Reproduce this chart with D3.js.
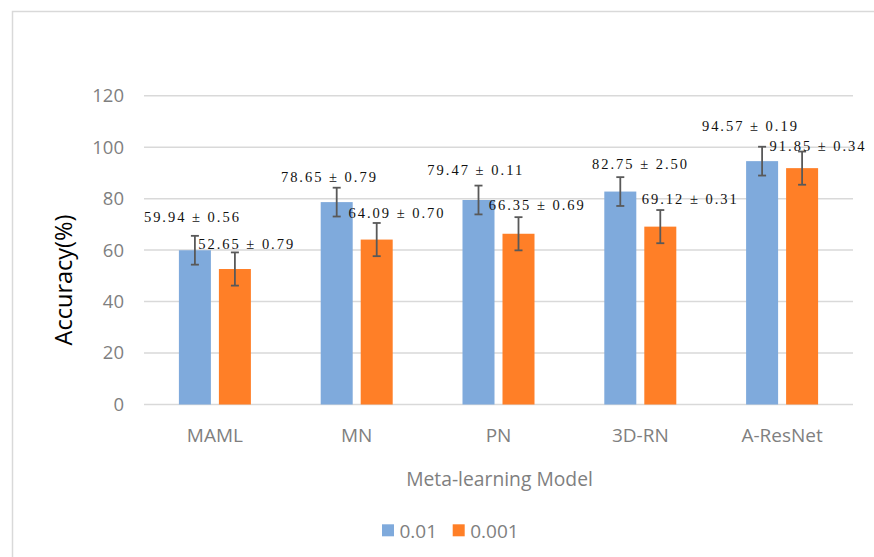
<!DOCTYPE html>
<html><head><meta charset="utf-8">
<script src="https://cdn.jsdelivr.net/npm/d3@7"></script>
<style>html,body{margin:0;padding:0;background:#fff;}svg{display:block;}</style>
</head><body>
<script>
// ---- data ----
const categories = ["MAML", "MN", "PN", "3D-RN", "A-ResNet"];
const seriesNames = ["0.01", "0.001"];
const valuesA = [59.94, 78.65, 79.47, 82.75, 94.57];
const valuesB = [52.65, 64.09, 66.35, 69.12, 91.85];
const stdA = [0.56, 0.79, 0.11, 2.50, 0.19];
const stdB = [0.79, 0.70, 0.69, 0.31, 0.34];
const errA = [5.6, 5.6, 5.6, 5.6, 5.6];
const errB = [6.45, 6.45, 6.45, 6.45, 6.45];
const yTicks = [0, 20, 40, 60, 80, 100, 120];
const colors = ["#7FAADC", "#FF7F27"];
// label placement offsets (layout), px relative to bar center / bar top
const labelDxA = [-3.5, -8.3, -3.8, 19.2, -12.7];
const labelDyA = [-28.3, -20.4, -25, -22.6, -30.4];
const labelDxB = [10.8, 19.3, 17.8, 29, 15];
const labelDyB = [-19.7, -21.9, -23.5, -22.3, -17.1];

(function () {
const W = 874, H = 557;
const svg = d3.select("body").append("svg").attr("width", W).attr("height", H);
svg.append("rect").attr("width", W).attr("height", H).attr("fill", "#fff");
// chart area border
svg.append("path").attr("d", `M12.5,${H} L12.5,11.5 L${W},11.5`)
  .attr("fill", "none").attr("stroke", "#d9d9d9").attr("stroke-width", 1.5);

const pLeft = 144, pRight = 853, pTop = 95.7, pBottom = 404.5;
const x0 = d3.scaleBand().domain(categories).range([pLeft, pRight]).padding(0);
const x1 = d3.scaleBand().domain(seriesNames)
  .range([x0.bandwidth() / 2 - 36, x0.bandwidth() / 2 + 36]).paddingInner(0.2).paddingOuter(0);
const y = d3.scaleLinear().domain([0, 120]).range([pBottom, pTop]);

// gridlines
svg.append("g").selectAll("line").data(yTicks).join("line")
  .attr("x1", pLeft).attr("x2", pRight)
  .attr("y1", d => y(d)).attr("y2", d => y(d))
  .attr("stroke", "#d9d9d9").attr("stroke-width", 1.5);

// y axis labels
const yAxis = d3.axisLeft(y).tickValues(yTicks).tickSize(0).tickPadding(0);
const gy = svg.append("g").attr("transform", `translate(${pLeft - 20},0)`).call(yAxis);
gy.select(".domain").remove();
gy.selectAll("text").attr("font-family", "Open Sans").attr("font-size", "18.5px").attr("fill", "#7f7f7f");

// x axis labels
const xAxis = d3.axisBottom(x0).tickSize(0).tickPadding(0);
const gx = svg.append("g").attr("transform", `translate(0,${pBottom})`).call(xAxis);
gx.select(".domain").remove();
gx.selectAll("text").attr("y", 0).attr("dy", null).attr("transform", "translate(0,37)")
  .attr("font-family", "Open Sans").attr("font-size", "19px").attr("fill", "#7f7f7f");

const seriesData = [
  {name: seriesNames[0], vals: valuesA, std: stdA, err: errA, dx: labelDxA, dy: labelDyA, color: colors[0]},
  {name: seriesNames[1], vals: valuesB, std: stdB, err: errB, dx: labelDxB, dy: labelDyB, color: colors[1]}
];

seriesData.forEach(s => {
  const g = svg.append("g");
  const rows = categories.map((c, i) => ({c, v: s.vals[i], sd: s.std[i], e: s.err[i], dx: s.dx[i], dy: s.dy[i]}));
  const cx = d => x0(d.c) + x1(s.name) + x1.bandwidth() / 2;
  g.selectAll("rect").data(rows).join("rect")
    .attr("x", d => x0(d.c) + x1(s.name)).attr("width", x1.bandwidth())
    .attr("y", d => y(d.v)).attr("height", d => y(0) - y(d.v))
    .attr("fill", s.color);
  // error bars
  const eb = g.selectAll("g.eb").data(rows).join("g").attr("class", "eb");
  eb.append("line").attr("x1", cx).attr("x2", cx)
    .attr("y1", d => y(d.v + d.e)).attr("y2", d => y(d.v - d.e));
  eb.append("line").attr("x1", d => cx(d) - 4).attr("x2", d => cx(d) + 4)
    .attr("y1", d => y(d.v + d.e)).attr("y2", d => y(d.v + d.e));
  eb.append("line").attr("x1", d => cx(d) - 4).attr("x2", d => cx(d) + 4)
    .attr("y1", d => y(d.v - d.e)).attr("y2", d => y(d.v - d.e));
  eb.selectAll("line").attr("stroke", "#595959").attr("stroke-width", 1.8);
  // data labels
  g.selectAll("text.lbl").data(rows).join("text").attr("class", "lbl")
    .attr("x", d => cx(d) + d.dx).attr("y", d => y(d.v) + d.dy)
    .attr("text-anchor", "middle")
    .attr("font-family", "Liberation Serif").attr("font-size", "14.5px").attr("fill", "#111")
    .attr("textLength", 95).attr("lengthAdjust", "spacing")
    .text(d => `${d.v.toFixed(2)} ± ${d.sd.toFixed(2)}`);
});

// y axis title
svg.append("text").attr("transform", "translate(72,280) rotate(-90)")
  .attr("text-anchor", "middle")
  .attr("font-family", "Open Sans").attr("font-size", "23.5px").attr("fill", "#000")
  .text("Accuracy(%)");

// x axis title
svg.append("text").attr("x", (pLeft + pRight) / 2 + 1).attr("y", 486)
  .attr("text-anchor", "middle")
  .attr("font-family", "Open Sans").attr("font-size", "19.3px").attr("fill", "#7f7f7f")
  .text("Meta-learning Model");

// legend
const legX = [382, 452.7];
const leg = svg.append("g");
seriesNames.forEach((n, i) => {
  leg.append("rect").attr("x", legX[i]).attr("y", 524.3).attr("width", 12).attr("height", 12).attr("fill", colors[i]);
  leg.append("text").attr("x", legX[i] + 17.5).attr("y", 538)
    .attr("font-family", "Open Sans").attr("font-size", "19px").attr("fill", "#7f7f7f").text(n);
});
})();
</script>
</body></html>
